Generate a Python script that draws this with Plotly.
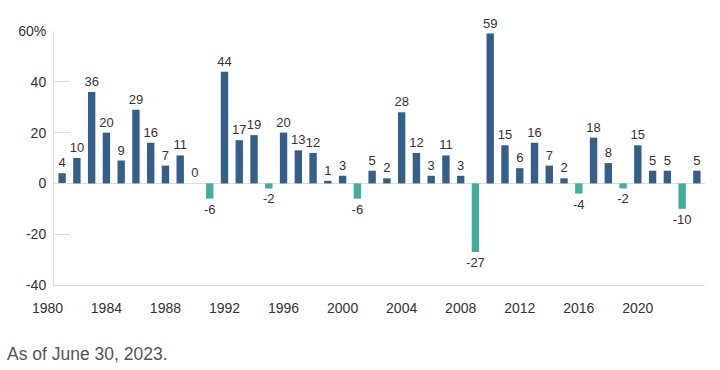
import plotly.graph_objects as go

years = list(range(1981, 2025))
values = [4, 10, 36, 20, 9, 29, 16, 7, 11, 0,
          -6, 44, 17, 19, -2, 20, 13, 12, 1, 3,
          -6, 5, 2, 28, 12, 3, 11, 3, -27, 59,
          15, 6, 16, 7, 2, -4, 18, 8, -2, 15,
          5, 5, -10, 5]
x_tick_vals = [1980, 1984, 1988, 1992, 1996, 2000, 2004, 2008, 2012, 2016, 2020]
y_tick_vals = [-40, -20, 0, 20, 40, 60]
y_tick_text = ["-40", "-20", "0", "20", "40", "60%"]
footnote = "As of June 30, 2023."

POS = "#345f88"
NEG = "#40ae98"
FONT = "Liberation Sans, Arial, sans-serif"
colors = [POS if v >= 0 else NEG for v in values]
x_range = [1980.45, 2024.55]

fig = go.Figure(go.Bar(
    x=years, y=values, width=0.5,
    marker=dict(color=colors, line=dict(width=0)),
    text=[str(v) for v in values], textposition="outside",
    constraintext="none",
    textfont=dict(family=FONT, size=13, color="#333333"),
    cliponaxis=False,
))

annotations = [dict(text=footnote, xref="paper", yref="paper",
                    x=-49/651, y=-(354-285)/254, xanchor="left", yanchor="middle",
                    showarrow=False,
                    font=dict(family=FONT, size=17.5, color="#555555"))]
# tick labels that fall just left of the plotted range (the axis starts after 1980)
for t in x_tick_vals:
    if t < x_range[0]:
        xp = (t - x_range[0]) / (x_range[1] - x_range[0])
        annotations.append(dict(text=str(t), xref="paper", yref="paper", x=xp, y=0,
                                xanchor="center", yanchor="middle", yshift=-22.5,
                                showarrow=False,
                                font=dict(family=FONT, size=14, color="#333333")))

fig.update_layout(
    width=720, height=370,
    margin=dict(l=54, r=15, t=31, b=85),
    paper_bgcolor="white", plot_bgcolor="white",
    showlegend=False,
    font=dict(family=FONT, size=14, color="#333333"),
    xaxis=dict(range=x_range, tickvals=x_tick_vals, showgrid=False,
               showline=True, linecolor="#dddddd", linewidth=1, ticks="",
               zeroline=False, ticklabelstandoff=10,
               tickfont=dict(size=14, color="#333333")),
    yaxis=dict(range=[-40, 60], tickvals=y_tick_vals, ticktext=y_tick_text,
               showgrid=False, showline=True, linecolor="#dddddd", linewidth=1,
               ticks="inside", ticklen=16, tickcolor="#dddddd", tickwidth=1,
               zeroline=True, zerolinecolor="#dddddd", zerolinewidth=1,
               ticklabelstandoff=4, tickfont=dict(size=14, color="#333333")),
    annotations=annotations,
)

fig.write_html("out.html")
